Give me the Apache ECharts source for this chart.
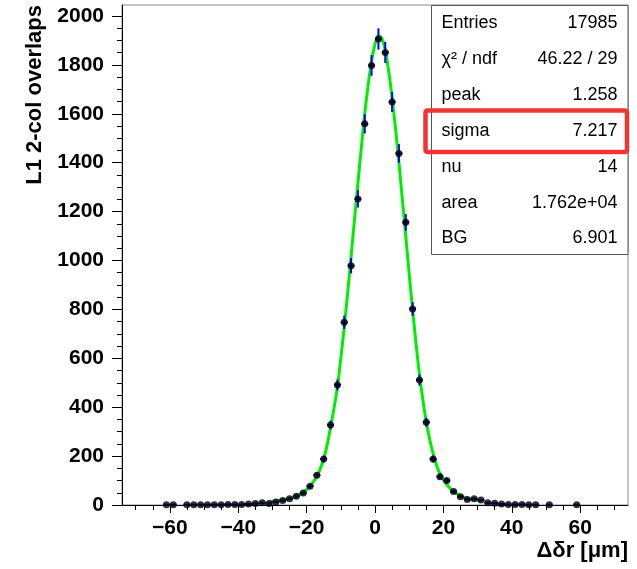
<!DOCTYPE html>
<html><head><meta charset="utf-8">
<script src="https://cdn.jsdelivr.net/npm/echarts@6/dist/echarts.min.js"></script>
<style>html,body{margin:0;padding:0;background:#fff}#c{width:637px;height:569px}</style>
</head><body><div id="c"></div>
<script>
// ---- data ----
const binCenters = [-61,-59,-55,-53,-51,-49,-47,-45,-43,-41,-39,-37,-35,-33,-31,-29,-27,-25,-23,-21,-19,-17,-15,-13,-11,-9,-7,-5,-3,-1,1,3,5,7,9,11,13,15,17,19,21,23,25,27,29,31,33,35,37,39,41,43,45,47,51,59];
const counts     = [1,1,1,1,1,1,1,1,2,2,2,4,6,9,6,12,18,26,36,49,77,122,188,327,491,747,979,1252,1559,1798,1906,1851,1648,1438,1156,802,511,338,188,116,100,55,34,23,26,20,9,7,4,2,2,2,1,1,1,1];
const binHalfWidth = 1;
const curveX = [-31,-30,-29,-28,-27,-26,-25,-24,-23,-22,-21,-20,-19,-18,-17,-16,-15,-14,-13,-12,-11,-10,-9,-8,-7,-6,-5,-4,-3,-2,-1,0,1,2,3,4,5,6,7,8,9,10,11,12,13,14,15,16,17,18,19,20,21,22,23,24,25,26,27,28,29,30,31];
const curveY = [14,15,16,18,21,23,26,30,36,43,52,63,78,96,117,148,188,245,318,395,482,600,727,868,1015,1168,1315,1462,1600,1718,1815,1884,1918,1908,1860,1775,1665,1540,1400,1250,1100,945,800,660,535,430,340,268,210,163,128,102,84,68,56,46,38,32,27,23,21,19,17];
const xMajorTicks = [-60,-40,-20,0,20,40,60];
const xMinorTicks = [-70,-65,-55,-50,-45,-35,-30,-25,-15,-10,-5,5,10,15,25,30,35,45,50,55,65,70];
const yMajorTicks = [0,200,400,600,800,1000,1200,1400,1600,1800,2000];
const statsLabels = ['Entries','\u03C7\u00B2 / ndf','peak','sigma','nu','area','BG'];
const statsValues = ['17985','46.22 / 29','1.258','7.217','14','1.762e+04','6.901'];
const xTitle = '\u0394\u03B4r [\u03BCm]';
const yTitle = 'L1 2-col overlaps';

// ---- chart ----
const FONT = '"Liberation Sans", Arial, Helvetica, sans-serif';
const yMinorTicks = [];
for (let v = 50; v < 2045; v += 50) if (v % 200 !== 0) yMinorTicks.push(v);
const fmtX = v => (v < 0 ? '\u2212' + Math.abs(v) : String(v));
const fmtY = v => String(v);

const chart = echarts.init(document.getElementById('c'), null, {renderer: 'canvas'});
const points = binCenters.map((x, i) => [x, counts[i]]);
const curve = curveX.map((x, i) => [x, curveY[i]]);

const X0 = 122, X1 = 628, Y0 = 5, Y1 = 505;
const gridCommon = {min: -74, max: 74, type: 'value'};

const graphics = [];
// stats box
const bx = 431.5, by = 5.5, bw = 628 - 431.5, bh = 249;
graphics.push({type: 'rect', shape: {x: bx, y: by, width: bw, height: bh},
  style: {fill: '#fff', stroke: '#555', lineWidth: 1}, z: 100});
const rowH = 35.85, row0 = 23.3;
statsLabels.forEach((lab, i) => {
  const cy = row0 + i * rowH;
  graphics.push({type: 'text', x: 441.5, y: cy, z: 101,
    style: {text: lab, fill: '#000', font: '18px ' + FONT, textAlign: 'left', textVerticalAlign: 'middle'}});
  graphics.push({type: 'text', x: 617.5, y: cy, z: 101,
    style: {text: statsValues[i], fill: '#000', font: '18px ' + FONT, textAlign: 'right', textVerticalAlign: 'middle'}});
});
// highlight around sigma row
graphics.push({type: 'rect', shape: {x: 425.5, y: 110.5, width: 201.5, height: 41.5, r: 2},
  style: {fill: 'none', stroke: '#f03535', lineWidth: 4.5}, z: 102});
// axis titles
graphics.push({type: 'text', x: 628, y: 551, z: 101,
  style: {text: xTitle, fill: '#000', font: 'bold 22px ' + FONT, textAlign: 'right', textVerticalAlign: 'middle'}});
graphics.push({type: 'text', x: 35, y: 5, rotation: Math.PI / 2, z: 101,
  style: {text: yTitle, fill: '#000', font: 'bold 22px ' + FONT, textAlign: 'right', textVerticalAlign: 'middle'}});

const option = {
  animation: false,
  backgroundColor: '#fff',
  grid: {left: X0, right: 637 - X1, top: Y0, bottom: 569 - Y1, show: true, borderColor: '#888', borderWidth: 1, backgroundColor: 'transparent'},
  xAxis: [
    Object.assign({}, gridCommon, {
      position: 'bottom',
      axisLine: {show: true, onZero: false, lineStyle: {color: '#000', width: 1}},
      axisTick: {show: true, inside: false, length: 8, lineStyle: {color: '#000'}, customValues: xMajorTicks},
      axisLabel: {show: true, customValues: xMajorTicks, formatter: fmtX, color: '#000', fontWeight: 'bold', fontSize: 21, fontFamily: FONT, margin: 13},
      splitLine: {show: false}
    }),
    Object.assign({}, gridCommon, {
      position: 'bottom',
      axisLine: {show: false, onZero: false},
      axisTick: {show: true, inside: false, length: 5, lineStyle: {color: '#000'}, customValues: xMinorTicks},
      axisLabel: {show: false},
      splitLine: {show: false}
    })
  ],
  yAxis: [
    {type: 'value', min: 0, max: 2045, position: 'left',
      axisLine: {show: true, onZero: false, lineStyle: {color: '#000', width: 1}},
      axisTick: {show: true, inside: false, length: 10, lineStyle: {color: '#000'}, customValues: yMajorTicks},
      axisLabel: {show: true, customValues: yMajorTicks, formatter: fmtY, color: '#000', fontWeight: 'bold', fontSize: 21, fontFamily: FONT, margin: 18},
      splitLine: {show: false}},
    {type: 'value', min: 0, max: 2045, position: 'left',
      axisLine: {show: false, onZero: false},
      axisTick: {show: true, inside: false, length: 5, lineStyle: {color: '#000'}, customValues: yMinorTicks},
      axisLabel: {show: false},
      splitLine: {show: false}}
  ],
  series: [
    {type: 'line', xAxisIndex: 0, yAxisIndex: 0, data: curve, smooth: 0.4, showSymbol: false, z: 2,
      lineStyle: {color: '#00ee00', width: 3}},
    {type: 'custom', xAxisIndex: 0, yAxisIndex: 0, data: points, z: 3, silent: true,
      renderItem: function (params, api) {
        const x = api.value(0), y = api.value(1);
        const e = Math.sqrt(y);
        const top = api.coord([x, y + e]), bot = api.coord([x, y - e]);
        const l = api.coord([x - binHalfWidth, y]), r = api.coord([x + binHalfWidth, y]);
        return {type: 'group', children: [
          {type: 'line', shape: {x1: top[0], y1: top[1], x2: bot[0], y2: bot[1]}, style: {stroke: '#0000ff', lineWidth: 2}},
          {type: 'line', shape: {x1: l[0], y1: l[1], x2: r[0], y2: r[1]}, style: {stroke: '#0000ff', lineWidth: 2}}
        ]};
      }},
    {type: 'scatter', xAxisIndex: 0, yAxisIndex: 0, data: points, symbol: 'circle', symbolSize: 7, z: 4,
      itemStyle: {color: '#000'}}
  ],
  graphic: graphics
};
chart.setOption(option);
</script></body></html>
